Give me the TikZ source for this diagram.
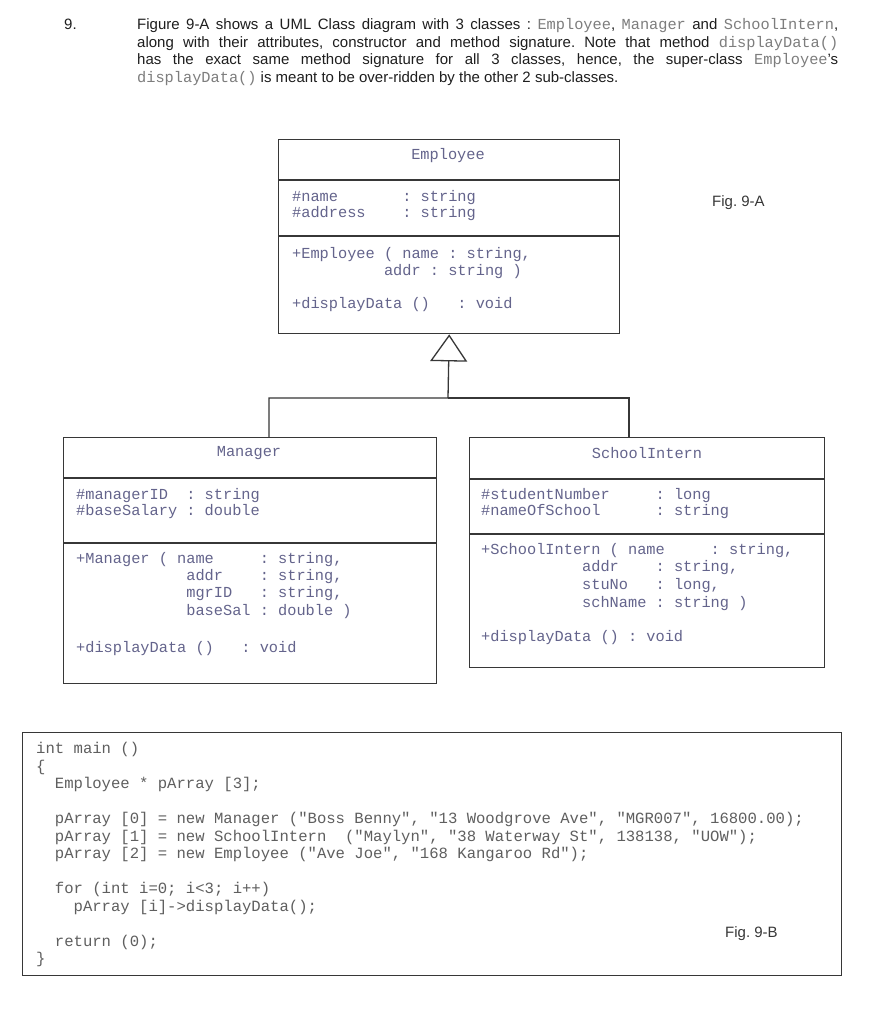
\documentclass[tikz,border=0pt]{standalone}
\usepackage{fontspec}
\setmainfont{Liberation Sans}
\setmonofont{Liberation Mono}
\usetikzlibrary{arrows.meta}
\definecolor{boxline}{RGB}{55,55,55}
\definecolor{boxtxt}{RGB}{100,100,140}
\definecolor{codetxt}{RGB}{95,95,95}
\definecolor{hdrtxt}{RGB}{30,30,30}
\definecolor{hdrmono}{RGB}{125,125,125}
\newcommand{\hm}[1]{{\ttfamily\fontsize{15.3}{17.6}\selectfont\color{hdrmono}#1}}
\frenchspacing
\begin{document}
\begin{tikzpicture}[x=1pt,y=-1pt,
  cls/.style={draw=boxline, line width=1.4pt, rectangle, inner sep=0pt, anchor=north west},
  sepline/.style={draw=boxline, line width=1.4pt},
  conn/.style={draw=boxline, line width=1.3pt},
  mtxt/.style={anchor=base west, inner sep=0pt, text=boxtxt, font=\fontsize{15.3}{17.6}\selectfont\ttfamily},
  ttl/.style={inner sep=0pt, text=boxtxt, font=\fontsize{15.3}{17.6}\selectfont\ttfamily},
  ctxt/.style={anchor=base west, inner sep=0pt, text=codetxt, font=\fontsize{15.6}{17.6}\selectfont\ttfamily},
  htxt/.style={anchor=base west, inner sep=0pt, text=hdrtxt, font=\fontsize{15}{17.6}\selectfont},
]
\fill[white] (0,0) rectangle (893,1024);
\useasboundingbox (0,0) rectangle (893,1024);

% header
\node[htxt] (h0) at (64,29.5) {9.};
\node[htxt] (h1) at (137,29.5) {\makebox[701pt][s]{Figure 9-A shows a UML Class diagram with 3 classes : \hm{Employee}, \hm{Manager} and \hm{SchoolIntern},}};
\node[htxt] (h2) at (137,47.5) {\makebox[701pt][s]{along with their attributes, constructor and method signature. Note that method \hm{displayData()}}};
\node[htxt] (h3) at (137,65) {\makebox[701pt][s]{has the exact same method signature for all 3 classes, hence, the super-class \hm{Employee}'s}};
\node[htxt] (h4) at (137,82.5) {\hm{displayData()} is meant to be over-ridden by the other 2 sub-classes.};

% class boxes
\node[cls, minimum width=341pt, minimum height=194pt] (emp) at (278,139) {};
\node[cls, minimum width=373pt, minimum height=246pt] (mgr) at (63,437) {};
\node[cls, minimum width=355pt, minimum height=230pt] (sch) at (469,437) {};

\draw[sepline] (emp.west |- 0,180) -- (emp.east |- 0,180);
\draw[sepline] (emp.west |- 0,236) -- (emp.east |- 0,236);
\draw[sepline] (mgr.west |- 0,478) -- (mgr.east |- 0,478);
\draw[sepline] (mgr.west |- 0,543) -- (mgr.east |- 0,543);
\draw[sepline] (sch.west |- 0,479) -- (sch.east |- 0,479);
\draw[sepline] (sch.west |- 0,534) -- (sch.east |- 0,534);

% Employee
\node[ttl] (e0) at (448,155.5) {Employee};
\node[mtxt] (e1) at (292,201.5) {\#name~~~~~~~:~string};
\node[mtxt] (e2) at (292,217.5) {\#address~~~~:~string};
\node[mtxt] (e3) at (292,258.5) {+Employee~(~name~:~string,};
\node[mtxt] (e4) at (292,275.5) {~~~~~~~~~~addr~:~string~)};
\node[mtxt] (e5) at (292,308.5) {+displayData~()~~~:~void};

% Manager
\node[ttl] (m0) at (249,453.5) {Manager};
\node[mtxt] (m1) at (76,499) {\#managerID~~:~string};
\node[mtxt] (m2) at (76,515.5) {\#baseSalary~:~double};
\node[mtxt] (m3) at (76,563.5) {+Manager~(~name~~~~~:~string,};
\node[mtxt] (m4) at (76,580.5) {~~~~~~~~~~~~addr~~~~:~string,};
\node[mtxt] (m5) at (76,597.5) {~~~~~~~~~~~~mgrID~~~:~string,};
\node[mtxt] (m6) at (76,615.5) {~~~~~~~~~~~~baseSal~:~double~)};
\node[mtxt] (m7) at (76,652.5) {+displayData~()~~~:~void};

% SchoolIntern
\node[ttl] (s0) at (647,453.5) {SchoolIntern};
\node[mtxt] (s1) at (481,499.5) {\#studentNumber~~~~~:~long};
\node[mtxt] (s2) at (481,515.5) {\#nameOfSchool~~~~~~:~string};
\node[mtxt] (s3) at (481,554.5) {+SchoolIntern~(~name~~~~~:~string,};
\node[mtxt] (s4) at (481,571.5) {~~~~~~~~~~~addr~~~~:~string,};
\node[mtxt] (s5) at (481,589.5) {~~~~~~~~~~~stuNo~~~:~long,};
\node[mtxt] (s6) at (481,607.5) {~~~~~~~~~~~schName~:~string~)};
\node[mtxt] (s7) at (481,641.5) {+displayData~()~:~void};

% inheritance
\coordinate (j) at (448,398);
\draw[conn, -{Triangle[open, width=37pt, length=27pt]}] (mgr.north -| 269,0) |- (j) -- (emp.south);
\draw[conn] (sch.north -| 629,0) |- (j);

\node[htxt, text=boxline] (figA) at (712,207) {Fig.~9-A};

% code box
\node[cls, minimum width=819pt, minimum height=243pt] (code) at (22,732) {};
\node[ctxt] (c0) at (36,753.5) {int~main~()};
\node[ctxt] (c1) at (36,771) {\{};
\node[ctxt] (c2) at (36,788.5) {~~Employee~*~pArray~[3];};
\node[ctxt] (c3) at (36,823.5) {~~pArray~[0]~=~new~Manager~("Boss~Benny",~"13~Woodgrove~Ave",~"MGR007",~16800.00);};
\node[ctxt] (c4) at (36,841) {~~pArray~[1]~=~new~SchoolIntern~~("Maylyn",~"38~Waterway~St",~138138,~"UOW");};
\node[ctxt] (c5) at (36,858.5) {~~pArray~[2]~=~new~Employee~("Ave~Joe",~"168~Kangaroo~Rd");};
\node[ctxt] (c6) at (36,893.5) {~~for~(int~i=0;~i<3;~i++)};
\node[ctxt] (c7) at (36,911) {~~~~pArray~[i]->displayData();};
\node[ctxt] (c8) at (36,946) {~~return~(0);};
\node[ctxt] (c9) at (36,963.5) {\}};
\node[htxt, text=boxline] (figB) at (725,937) {Fig.~9-B};
\end{tikzpicture}
\end{document}
